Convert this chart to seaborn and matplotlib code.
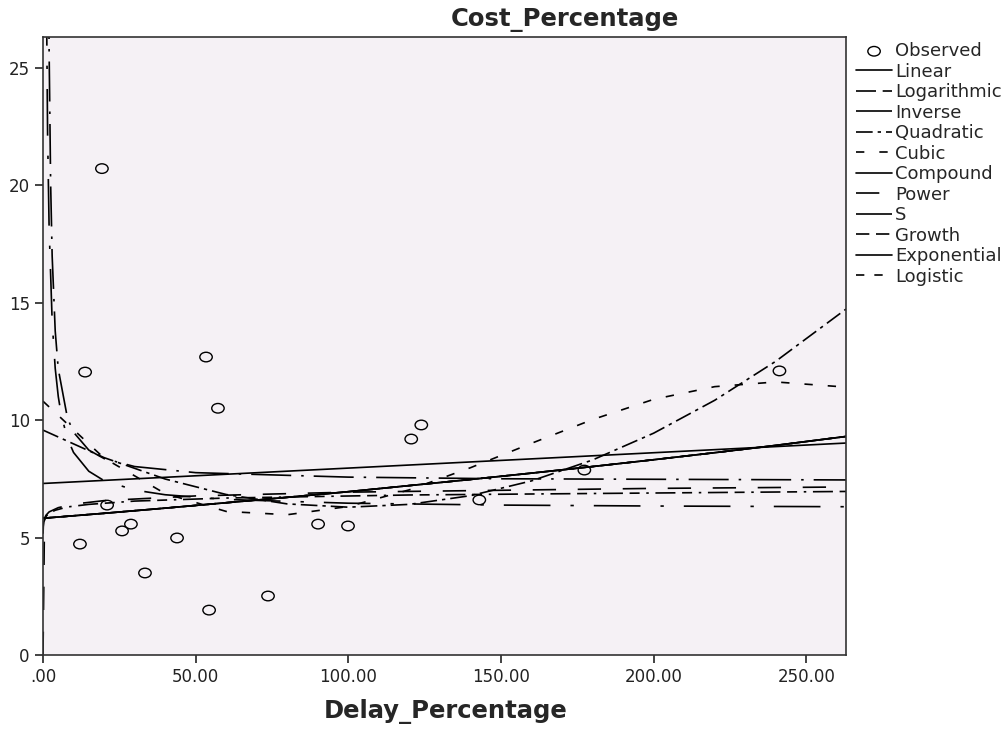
import matplotlib
matplotlib.use("Agg")
import matplotlib.pyplot as plt
from matplotlib.path import Path
from matplotlib.transforms import Affine2D
import seaborn as sns
import pandas as pd

# observed cases
delay = [12.1, 13.8, 19.3, 21.0, 25.9, 28.8, 33.4, 43.9, 53.4, 54.4,
         57.3, 73.7, 90.1, 99.9, 120.6, 123.9, 142.9, 177.3, 241.2]
cost = [4.72, 12.04, 20.7, 6.38, 5.28, 5.57, 3.49, 4.98, 12.68, 1.91,
        10.5, 2.51, 5.57, 5.49, 9.19, 9.79, 6.6, 7.87, 12.09]

# fitted curves
grid_x = [0, 20, 40, 60, 80, 100, 120, 140, 160, 180, 200, 220, 240, 263]

linear_x = [0, 263]
linear_y = [7.30, 9.02]

log_x = [0.02, 0.1, 0.3, 1, 2, 4, 8, 15, 30, 60, 120, 263]
log_y = [5.16, 5.46, 5.67, 5.90, 6.03, 6.16, 6.30, 6.41, 6.55, 6.68, 6.81, 6.96]

inverse_x = [0.8, 1, 1.5, 2, 3, 4, 5, 6, 8, 10, 15, 20, 30, 40, 60, 100, 150, 200, 263]
inverse_y = [36.2, 30.2, 22.2, 18.2, 14.2, 12.2, 11.0, 10.2, 9.22, 8.62, 7.82,
             7.42, 7.02, 6.82, 6.62, 6.46, 6.38, 6.34, 6.31]

quad_y = [9.57, 8.40, 7.49, 6.83, 6.43, 6.29, 6.41, 6.78, 7.41, 8.30, 9.44, 10.84, 12.50, 14.72]
cubic_y = [10.8, 8.38, 6.87, 6.11, 5.97, 6.32, 7.03, 7.97, 9.01, 10.02, 10.88, 11.42, 11.62, 11.4]

# compound, growth, exponential and logistic give the same curve
compound_y = [5.82, 6.03, 6.25, 6.48, 6.71, 6.95, 7.21, 7.47, 7.74, 8.02, 8.31, 8.61, 8.92, 9.30]

power_x = [0, 0.5, 1, 2, 5, 10, 20, 50, 100, 200, 263]
power_y = [0, 5.82, 5.95, 6.09, 6.27, 6.42, 6.57, 6.77, 6.93, 7.09, 7.15]

s_x = [1.5, 1.8, 2, 2.5, 3, 4, 5, 8, 10, 15, 20, 30, 50, 100, 150, 263]
s_y = [39.1, 29.6, 25.76, 20.06, 16.98, 13.79, 12.17, 10.09, 9.48, 8.72,
       8.36, 8.02, 7.76, 7.57, 7.50, 7.45]

yticks = [0, 5, 10, 15, 20, 25]
xticks = [0, 50, 100, 150, 200, 250]
xticklabels = [".00", "50.00", "100.00", "150.00", "200.00", "250.00"]

sns.set_style("ticks")
plt.rcParams['font.family'] = ['DejaVu Sans']

fig = plt.figure(figsize=(10.05, 7.30), dpi=100)
ax = fig.add_axes([43/1005, 75/730, 803/1005, 618/730])
ax.set_facecolor('#f5f1f5')

obs = pd.DataFrame({'Delay_Percentage': delay, 'Cost_Percentage': cost})
ell = Path.unit_circle().transformed(Affine2D().scale(1.3, 1.0))
sns.scatterplot(data=obs, x='Delay_Percentage', y='Cost_Percentage', ax=ax,
                marker=ell, s=80, color='black', linewidth=1.0, zorder=5)
pts = ax.collections[0]
pts.set_facecolor('none')
pts.set_edgecolor('black')

curves = [
    ("Linear", linear_x, linear_y, '-'),
    ("Logarithmic", log_x, log_y, (0, (12, 4, 6, 4, 1.5, 4))),
    ("Inverse", inverse_x, inverse_y, (0, (28, 12, 2, 12))),
    ("Quadratic", grid_x, quad_y, (0, (10, 3, 2, 3))),
    ("Cubic", grid_x, cubic_y, (0, (5, 9))),
    ("Compound", grid_x, compound_y, '-'),
    ("Power", power_x, power_y, (0, (14, 13))),
    ("S", s_x, s_y, (0, (24, 6, 1.5, 6))),
    ("Growth", grid_x, compound_y, (0, (8, 4))),
    ("Exponential", grid_x, compound_y, '-'),
    ("Logistic", grid_x, compound_y, (0, (5, 6))),
]

handles = [pts]
labels = ["Observed"]
for name, xs, ys, ls in curves:
    n0 = len(ax.lines)
    sns.lineplot(x=xs, y=ys, ax=ax, color='black', linewidth=1.2,
                 linestyle=ls, errorbar=None, sort=True)
    handles.append(ax.lines[n0])
    labels.append(name)

ax.set_xlim(0, 263)
ax.set_ylim(0, 26.3)
ax.set_xticks(xticks)
ax.set_xticklabels(xticklabels)
ax.set_yticks(yticks)
ax.tick_params(direction='out', length=6, width=1.2, labelsize=12, colors='#222222')
ax.set_xlabel('')
ax.set_ylabel('')
for sp in ax.spines.values():
    sp.set_visible(True)
    sp.set_color('#333333')
    sp.set_linewidth(1.2)

ax.legend(handles, labels, loc='upper left', bbox_to_anchor=(856/1005, 1 - 42/730),
          bbox_transform=fig.transFigure, frameon=False, fontsize=13,
          labelspacing=0.14, handlelength=2.0, handletextpad=0.15,
          borderaxespad=0, borderpad=0)

fig.text(565/1005, 1 - 20/730, "Cost_Percentage", ha='center', va='center',
         fontsize=17.5, fontweight='bold')
fig.text(446/1005, 1 - 712/730, "Delay_Percentage", ha='center', va='center',
         fontsize=17.5, fontweight='bold')

fig.savefig("out.png", dpi=100, facecolor='white')
